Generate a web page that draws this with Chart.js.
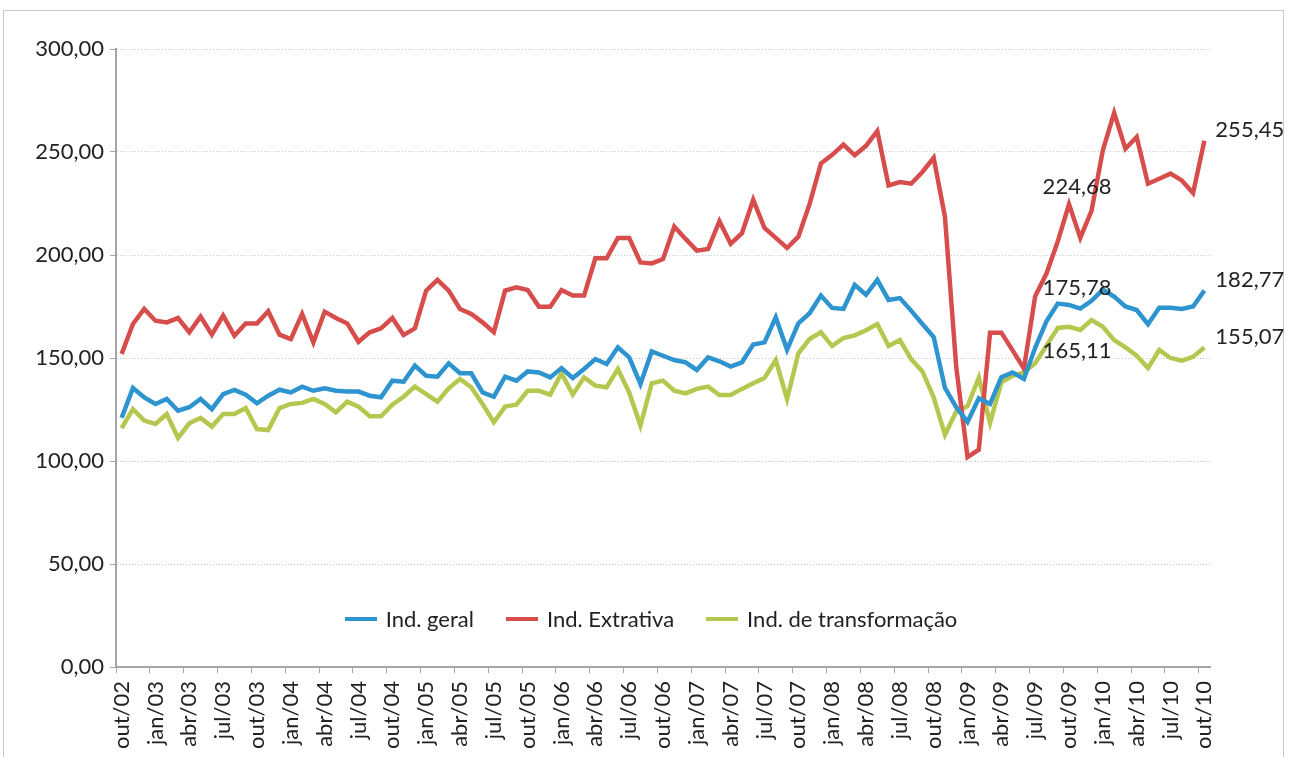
<!DOCTYPE html>
<html>
<head>
<meta charset="utf-8">
<script src="https://cdn.jsdelivr.net/npm/chart.js@4.4.1/dist/chart.umd.min.js"></script>
<style>
html, body { margin: 0; padding: 0; background: #fff; }
#wrap { position: relative; width: 1291px; height: 757px; overflow: hidden; }
#frame { position: absolute; left: 3px; top: 10px; width: 1281px; height: 770px; border: 1px solid #c8c8c8; box-sizing: border-box; }
#chart { position: absolute; left: 0; top: 0; }
#legend { position: absolute; top: 605px; left: 0; width: 1302px; display: flex; justify-content: center;
          font-family: Lato, sans-serif; font-size: 22px; color: #222; }
#legend .item { display: flex; align-items: center; margin: 0 16px; }
#legend .sw { width: 32px; height: 4px; margin-right: 9px; }
</style>
</head>
<body>
<div id="wrap">
  <div id="frame"></div>
  <canvas id="chart" width="1291" height="757"></canvas>
  <div id="legend"></div>
</div>
<script>
// month names used for the category labels (out/02 ... out/10)
const monthNames = ['jan', 'fev', 'mar', 'abr', 'mai', 'jun', 'jul', 'ago', 'set', 'out', 'nov', 'dez'];
const categories = [];
for (let k = 0; k < 97; k++) {
    const m = (9 + k) % 12;
    const y = 2 + Math.floor((9 + k) / 12);
    categories.push(monthNames[m] + '/' + String(y).padStart(2, '0'));
}

const yTicks = [0, 50, 100, 150, 200, 250, 300];

// Ind. geral
const indGeral = [
    121.0, 135.4, 130.9, 127.7, 130.1, 124.4, 126.1, 130.1, 125.2, 132.5,
    134.5, 132.2, 128.0, 131.7, 134.6, 133.3, 136.1, 134.1, 135.3, 134.1,
    133.7, 133.7, 131.7, 130.9, 139.0, 138.5, 146.3, 141.4, 140.9, 147.4,
    142.6, 142.6, 133.3, 131.2, 140.9, 139.0, 143.5, 143.0, 140.6, 145.1,
    140.3, 144.7, 149.5, 147.1, 155.2, 150.3, 137.4, 153.2, 151.1, 149.0,
    147.9, 144.2, 150.3, 148.4, 145.8, 147.9, 156.5, 157.6, 169.7, 154.0,
    166.8, 171.7, 180.3, 174.3, 173.8, 185.5, 180.7, 187.9, 178.2, 179.1,
    173.0, 166.5, 160.2, 135.5, 126.1, 119.0, 130.4, 127.7, 140.7, 143.0,
    139.8, 155.0, 167.8, 176.4, 175.78, 174.0, 177.8, 183.2, 179.8, 175.0,
    173.3, 166.4, 174.4, 174.4, 173.8, 175.0, 182.77
];

// Ind. Extrativa
const indExtrativa = [
    152.0, 166.5, 173.8, 168.1, 167.3, 169.4, 162.5, 170.1, 161.3, 170.6,
    160.8, 166.8, 166.8, 172.7, 161.3, 159.2, 171.4, 157.6, 172.5, 169.4,
    166.8, 157.9, 162.5, 164.4, 169.4, 161.2, 164.4, 182.7, 187.9, 182.7,
    173.8, 171.4, 167.3, 162.5, 182.7, 184.3, 183.0, 174.9, 174.9, 183.0,
    180.3, 180.3, 198.4, 198.4, 208.3, 208.3, 196.4, 195.9, 198.0, 213.8,
    207.8, 202.1, 202.9, 216.4, 205.4, 210.6, 226.8, 213.1, 208.3, 203.4,
    208.9, 224.8, 244.4, 248.6, 253.6, 248.4, 253.0, 260.2, 233.8, 235.4,
    234.6, 240.3, 247.2, 218.5, 145.6, 101.9, 105.5, 162.3, 162.3, 153.7,
    144.8, 180.0, 191.0, 206.5, 224.68, 208.3, 221.6, 250.8, 269.0, 251.6,
    257.3, 234.6, 237.0, 239.5, 236.2, 230.1, 255.45
];

// Ind. de transformação
const indTransformacao = [
    116.0, 125.2, 119.6, 118.0, 122.8, 111.2, 118.3, 120.9, 116.7, 122.8,
    122.8, 125.7, 115.5, 115.0, 125.7, 127.7, 128.2, 130.1, 127.7, 123.6,
    128.8, 126.4, 121.7, 121.7, 127.3, 131.2, 136.1, 132.5, 128.8, 135.3,
    139.8, 135.8, 127.7, 118.8, 126.4, 127.3, 134.1, 134.1, 132.2, 142.6,
    132.2, 140.6, 136.6, 135.8, 144.7, 133.3, 117.2, 137.7, 139.0, 134.1,
    132.8, 135.0, 136.1, 132.0, 132.0, 135.0, 137.7, 140.3, 149.0, 130.1,
    152.3, 159.2, 162.5, 155.8, 159.7, 161.0, 163.5, 166.5, 155.8, 158.7,
    149.5, 143.5, 130.9, 112.7, 124.0, 126.6, 140.5, 118.5, 138.2, 141.4,
    143.0, 147.5, 156.0, 164.6, 165.11, 163.6, 168.4, 165.2, 158.7, 155.2,
    151.1, 145.1, 153.9, 150.0, 148.7, 150.6, 155.07
];

const seriesNames = ['Ind. geral', 'Ind. Extrativa', 'Ind. de transformação'];
const seriesColors = ['#2e94cf', '#d64d4b', '#b5c74f'];

// which points carry a value label, and where
const valueLabels = [
    { ds: 1, i: 84, pos: 'above' },
    { ds: 0, i: 84, pos: 'above' },
    { ds: 2, i: 84, pos: 'below' },
    { ds: 1, i: 96, pos: 'right' },
    { ds: 0, i: 96, pos: 'right' },
    { ds: 2, i: 96, pos: 'right' }
];

const fontFamily = 'Lato, sans-serif';
const textColor = '#222';
const axisColor = '#a6a6a6';

function fmt(v) {
    return Number(v).toFixed(2).replace('.', ',');
}

const labelPlugin = {
    id: 'valueLabels',
    afterDatasetsDraw(chart) {
        const ctx = chart.ctx;
        ctx.save();
        ctx.font = '22px ' + fontFamily;
        ctx.fillStyle = textColor;
        valueLabels.forEach(l => {
            const pt = chart.getDatasetMeta(l.ds).data[l.i];
            const v = chart.data.datasets[l.ds].data[l.i];
            if (l.pos === 'above') {
                ctx.textAlign = 'center';
                ctx.textBaseline = 'bottom';
                ctx.fillText(fmt(v), pt.x + 8, pt.y - 6);
            } else if (l.pos === 'below') {
                ctx.textAlign = 'center';
                ctx.textBaseline = 'top';
                ctx.fillText(fmt(v), pt.x + 8, pt.y + 13);
            } else {
                ctx.textAlign = 'left';
                ctx.textBaseline = 'middle';
                ctx.fillText(fmt(v), pt.x + 11, pt.y - 11);
            }
        });
        ctx.restore();
    }
};

const datasets = [indGeral, indExtrativa, indTransformacao].map((d, k) => ({
    label: seriesNames[k],
    data: d,
    borderColor: seriesColors[k],
    backgroundColor: seriesColors[k],
    borderWidth: 4.5,
    pointRadius: 0,
    tension: 0,
    fill: false
}));

// html legend inside the plot, like the original
const legendEl = document.getElementById('legend');
seriesNames.forEach((name, k) => {
    const item = document.createElement('div');
    item.className = 'item';
    const sw = document.createElement('span');
    sw.className = 'sw';
    sw.style.background = seriesColors[k];
    const txt = document.createElement('span');
    txt.textContent = name;
    item.appendChild(sw);
    item.appendChild(txt);
    legendEl.appendChild(item);
});

const ctx = document.getElementById('chart').getContext('2d');
new Chart(ctx, {
    type: 'line',
    data: { labels: categories, datasets: datasets },
    options: {
        responsive: false,
        animation: false,
        layout: { padding: { top: 49, right: 81, left: 0, bottom: 0 } },
        plugins: { legend: { display: false }, tooltip: { enabled: false } },
        scales: {
            x: {
                offset: true,
                grid: {
                    offset: true,
                    drawOnChartArea: false,
                    drawTicks: true,
                    tickLength: 6,
                    color: c => (c.index !== undefined && c.index % 3 === 0) ? axisColor : 'rgba(0,0,0,0)'
                },
                border: { color: axisColor, width: 2 },
                ticks: {
                    autoSkip: false,
                    minRotation: 90,
                    maxRotation: 90,
                    padding: 8,
                    color: textColor,
                    font: { family: fontFamily, size: 22 },
                    callback: (v, i) => (i % 3 === 0 ? categories[i] : '')
                },
                afterFit: s => { s.height = 90; }
            },
            y: {
                min: yTicks[0],
                max: yTicks[yTicks.length - 1],
                afterBuildTicks: s => { s.ticks = yTicks.map(v => ({ value: v })); },
                grid: { color: '#c4c4c4', lineWidth: 1, drawTicks: true, tickLength: 6, tickColor: axisColor },
                border: { color: axisColor, width: 2, dash: [1, 2] },
                ticks: {
                    padding: 6,
                    color: textColor,
                    font: { family: fontFamily, size: 22 },
                    callback: v => fmt(v)
                },
                afterFit: s => { s.width = 116; }
            }
        }
    },
    plugins: [labelPlugin]
});
</script>
</body>
</html>
